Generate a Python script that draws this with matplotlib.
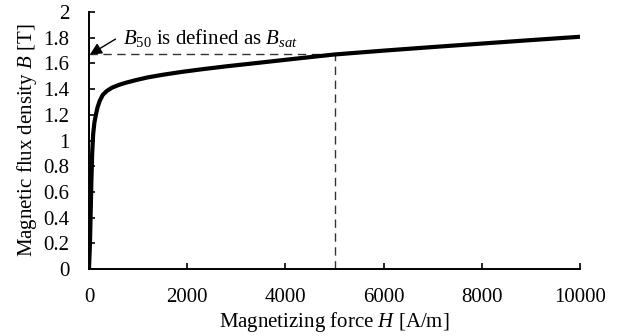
import numpy as np
import matplotlib.pyplot as plt

plt.rcParams["font.family"] = ["Liberation Serif", "DejaVu Serif"]
plt.rcParams["mathtext.fontset"] = "custom"
plt.rcParams["mathtext.rm"] = "Liberation Serif"
plt.rcParams["mathtext.it"] = "Liberation Serif:italic"

# B-H magnetization curve
H = [0, 20, 35, 50, 65, 85, 110, 140, 175, 220, 280, 360, 460, 600, 750,
     950, 1200, 1500, 1900, 2300, 2800, 3400, 4200, 5000, 6000, 7000,
     8000, 9000, 10000]
B = [0, 0.2, 0.45, 0.7, 0.9, 1.05, 1.14, 1.2, 1.26, 1.31, 1.355, 1.385,
     1.41, 1.432, 1.45, 1.47, 1.492, 1.512, 1.535, 1.555, 1.578, 1.603,
     1.637, 1.67, 1.70, 1.728, 1.755, 1.782, 1.808]

H50 = 5000
B50 = 1.67

x_ticks = [0, 2000, 4000, 6000, 8000, 10000]
y_ticks = [0, 0.2, 0.4, 0.6, 0.8, 1, 1.2, 1.4, 1.6, 1.8, 2]

FS = 15

fig = plt.figure(figsize=(6.21, 3.36), dpi=100)
ax = fig.add_axes([0.1433, 0.1994, 0.7907, 0.7646])

ax.plot([0, H50], [B50, B50], color="#333333", lw=1.0, ls=(0, (6, 4)))
ax.plot([H50, H50], [0, B50], color="#333333", lw=1.0, ls=(0, (6, 4)))
ax.plot(H, B, color="black", lw=3.0, solid_capstyle="butt")

ax.annotate("", xy=(20, B50), xytext=(540, 1.79),
            arrowprops=dict(arrowstyle="-|>,head_length=0.7,head_width=0.35",
                            color="black", lw=1.0, shrinkA=0, shrinkB=0))
ax.text(700, 1.80, r"$B_{50}$ is defined as $B_{sat}$", fontsize=FS,
        ha="left", va="center")

ax.set_xlim(0, 10000)
ax.set_ylim(0, 2)
ax.set_xticks(x_ticks)
ax.set_yticks(y_ticks)
ax.set_xticklabels([str(v) for v in x_ticks])
ax.set_yticklabels([f"{v:g}" for v in y_ticks])
ax.tick_params(direction="in", length=4.5, width=1.2, labelsize=FS)
ax.tick_params(axis="x", pad=13.5)
ax.tick_params(axis="y", pad=14)
for s in ("top", "right"):
    ax.spines[s].set_visible(False)
for s in ("left", "bottom"):
    ax.spines[s].set_linewidth(1.4)

ax.set_xlabel(r"Magnetizing force $H$ [A/m]", fontsize=FS, labelpad=2)
ax.set_ylabel(r"Magnetic flux density $B$ [T]", fontsize=FS, labelpad=3)

fig.savefig("out.png", dpi=100)
